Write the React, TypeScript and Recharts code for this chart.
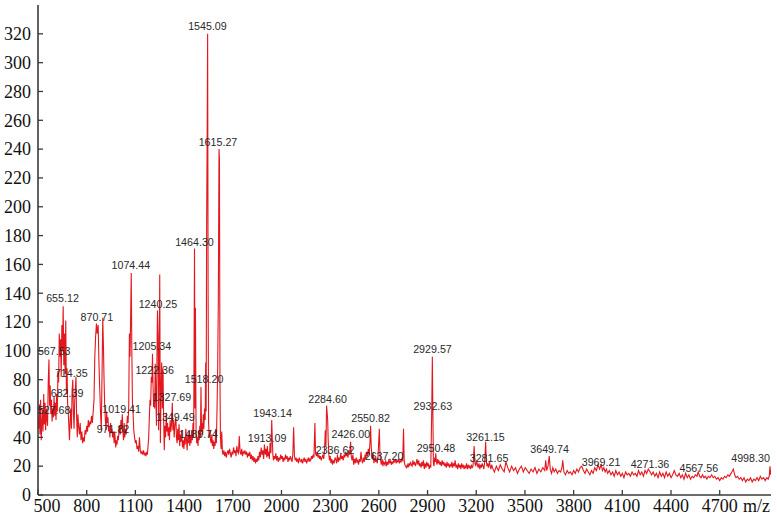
import { ComposedChart, Line, Scatter, XAxis, YAxis } from "recharts";

// m/z, intensity pairs
const SPEC_LOW: [number, number][] = [
  [500, 54], [504, 46], [508, 63], [512, 42], [516, 66], [520, 38], [524, 50], [527.68, 58],
  [531, 44], [535, 70], [539, 49], [543, 64], [547, 45], [551, 60], [555, 52], [559, 48],
  [563, 78], [567.53, 94], [571, 62], [575, 76], [579, 56], [583, 66], [587, 51], [591, 60],
  [595, 54], [599, 68], [603, 55], [607, 64], [611, 52], [615, 70], [619, 58], [623, 86],
  [627, 78], [631, 112], [635, 96], [639, 108], [643, 82], [647, 118], [651, 100], [655.12, 131],
  [659, 90], [663, 112], [667, 84], [671, 121], [675, 70], [679, 88], [682.39, 64], [686, 58],
  [690, 48], [694, 38], [698, 52], [702, 60], [706, 46], [710, 72], [714.35, 80], [718, 58],
  [722, 46], [726, 64], [730, 74], [734, 82], [738, 54], [742, 40], [746, 56], [750, 48],
  [755, 42], [760, 50], [765, 38], [770, 44], [775, 36], [780, 40], [785, 37], [790, 45],
  [795, 42], [800, 48], [805, 44], [810, 52], [815, 47], [820, 51], [825, 49], [830, 55],
  [835, 50], [840, 58], [845, 66], [850, 96], [855, 110], [860, 119], [865, 112], [870.71, 118],
  [875, 94], [880, 75], [885, 58], [890, 45], [895, 88], [899, 123], [903, 104], [907, 80],
  [911, 62], [915, 52], [919, 45], [923, 58], [927, 50], [931, 54], [935, 44], [939, 48],
  [943, 40], [947, 50], [951, 43], [955, 46], [960, 40], [965, 44], [969, 36], [971.82, 44],
  [975, 40], [979, 33], [983, 38], [987, 35], [991, 41], [995, 38], [999, 44], [1003, 48],
  [1007, 42], [1011, 52], [1015, 46], [1019.41, 56], [1023, 44], [1027, 38], [1031, 50], [1035, 40],
  [1039, 46], [1043, 42], [1047, 48], [1051, 55], [1055, 50], [1059, 62], [1063, 112], [1067, 96],
  [1071, 125], [1074.44, 154], [1078, 101], [1082, 64], [1086, 56], [1090, 45], [1095, 40], [1100, 36],
];

const SPEC_CLUSTER: [number, number][] = [
  [1105, 38], [1110, 32], [1115, 34], [1120, 30], [1125, 40], [1130, 31], [1135, 29], [1140, 30],
  [1145, 28], [1150, 31], [1155, 28], [1160, 29], [1165, 27], [1170, 30], [1174, 28], [1178, 34],
  [1182, 40], [1186, 54], [1190, 66], [1194, 62], [1198, 82], [1202, 78], [1205.34, 98], [1209, 75],
  [1212, 61], [1215, 70], [1219, 60], [1222.36, 91], [1226, 68], [1230, 48], [1233, 96], [1236, 128],
  [1240.25, 110], [1243, 45], [1246, 80], [1250, 153], [1254, 36], [1258, 72], [1262, 92], [1266, 60],
  [1270, 88], [1274, 54], [1278, 31], [1282, 48], [1286, 40], [1290, 57], [1294, 44], [1298, 50],
  [1302, 41], [1306, 47], [1310, 38], [1314, 52], [1318, 44], [1322, 48], [1327.69, 64], [1331, 45],
  [1335, 52], [1339, 40], [1343, 48], [1349.49, 54], [1353, 40], [1357, 36], [1361, 46], [1365, 38],
  [1369, 49], [1373, 34], [1377, 42], [1381, 37], [1385, 45], [1390, 33], [1395, 38], [1399, 32],
  [1403, 40], [1407, 35], [1411, 46], [1415, 38], [1419, 31], [1423, 42], [1427, 36], [1431, 44],
  [1435, 34], [1439, 41], [1443, 36], [1447, 45], [1451, 38], [1455, 50], [1459, 40], [1464.3, 171],
  [1467, 60], [1470, 130], [1474, 42], [1478, 36], [1482, 40], [1486, 34], [1489.74, 45], [1493, 38],
  [1497, 48], [1501, 40], [1504, 75], [1508, 44], [1512, 50], [1515, 42], [1518.2, 56], [1522, 46],
  [1526, 60], [1530, 52], [1533, 92], [1536, 58], [1539, 187], [1542, 245], [1545.09, 320], [1548, 140],
  [1551, 50], [1555, 40], [1559, 45], [1563, 38], [1567, 36], [1571, 42], [1575, 34], [1579, 38],
  [1583, 32], [1587, 37], [1591, 34], [1595, 46], [1599, 36], [1603, 60], [1607, 88], [1611, 135],
  [1615.27, 240], [1618, 232], [1621, 80], [1624, 40], [1628, 32], [1632, 44], [1636, 30], [1640, 28],
  [1645, 31], [1650, 27], [1655, 30], [1660, 26], [1665, 29], [1670, 31], [1675, 28], [1680, 32],
  [1685, 29], [1690, 26], [1695, 30], [1700, 28],
];

const SPEC_MID: [number, number][] = [
  [1705, 33], [1710, 29], [1715, 31], [1720, 27], [1725, 34], [1730, 30], [1735, 29], [1740, 41],
  [1745, 30], [1750, 28], [1755, 32], [1760, 27], [1765, 30], [1770, 29], [1775, 31], [1780, 28],
  [1785, 30], [1790, 26], [1795, 29], [1800, 27], [1805, 30], [1810, 25], [1815, 28], [1820, 24],
  [1825, 27], [1830, 23], [1835, 26], [1840, 22], [1845, 25], [1850, 23], [1855, 27], [1860, 24],
  [1865, 30], [1870, 26], [1875, 33], [1880, 28], [1885, 31], [1890, 25], [1895, 35], [1900, 28],
  [1905, 32], [1910, 26], [1913.09, 34], [1917, 27], [1921, 30], [1925, 25], [1930, 36], [1935, 29],
  [1940, 52], [1943.14, 40], [1947, 28], [1951, 24], [1955, 27], [1960, 25], [1965, 29], [1970, 24],
  [1975, 27], [1980, 23], [1985, 26], [1990, 24], [1995, 28], [2000, 25], [2005, 27], [2010, 23],
  [2015, 26], [2020, 24], [2025, 28], [2030, 25], [2035, 27], [2040, 23], [2045, 26], [2050, 24],
  [2055, 27], [2060, 25], [2065, 23], [2070, 28], [2075, 47], [2080, 27], [2085, 24], [2090, 26],
  [2095, 23], [2100, 25], [2105, 22], [2110, 26], [2115, 24], [2120, 23], [2125, 25], [2130, 22],
  [2135, 24], [2140, 26], [2145, 23], [2150, 25], [2155, 22], [2160, 24], [2165, 26], [2170, 23],
  [2175, 25], [2180, 24], [2185, 27], [2190, 25], [2195, 28], [2200, 26], [2206, 50], [2210, 29],
  [2215, 27], [2220, 30], [2225, 26], [2230, 28], [2235, 25], [2240, 27], [2245, 24], [2250, 26],
  [2255, 28], [2260, 25], [2265, 30], [2270, 45], [2274, 34], [2278, 62], [2284.6, 52], [2288, 38],
  [2292, 28], [2296, 24], [2300, 27], [2305, 22], [2310, 25], [2315, 21], [2320, 24], [2325, 22],
  [2330, 26], [2336.62, 24], [2340, 22], [2345, 28], [2350, 23], [2355, 26], [2360, 24], [2365, 29],
  [2370, 25], [2375, 27], [2380, 24], [2385, 28], [2390, 26], [2395, 30], [2400, 27], [2405, 29],
  [2410, 26], [2415, 31], [2420, 28], [2426, 37], [2430, 27], [2435, 24], [2440, 28], [2445, 21],
  [2450, 25], [2455, 22], [2460, 26], [2465, 23], [2470, 24], [2475, 21], [2480, 25], [2485, 23],
  [2490, 30], [2495, 24], [2500, 22], [2505, 26], [2510, 23], [2515, 28], [2520, 25], [2525, 30],
  [2530, 27], [2535, 32], [2540, 28], [2545, 36], [2549, 48], [2553, 34], [2557, 27], [2561, 25],
  [2565, 29], [2570, 22], [2575, 26], [2580, 23], [2585, 25], [2590, 22], [2595, 27], [2603, 46],
  [2607, 28], [2611, 24], [2615, 21], [2620, 25], [2625, 20], [2630, 23], [2637.2, 21], [2642, 24],
  [2647, 20], [2652, 23], [2657, 21], [2662, 25], [2667, 22], [2672, 24], [2677, 21], [2682, 23],
  [2687, 22], [2692, 24], [2697, 23], [2702, 25], [2707, 22], [2712, 24], [2717, 23], [2722, 25],
  [2727, 22], [2732, 24], [2737, 23], [2742, 25], [2747, 24], [2752, 46], [2756, 24], [2760, 21],
  [2765, 20], [2770, 19], [2775, 21], [2780, 19], [2785, 22], [2790, 20], [2795, 23], [2800, 21],
  [2805, 20], [2810, 24], [2815, 21], [2820, 23], [2825, 20], [2830, 22], [2835, 25], [2840, 21],
  [2845, 24], [2850, 20], [2855, 22], [2860, 19], [2865, 23], [2870, 20], [2875, 24], [2880, 18],
  [2885, 22], [2890, 19], [2895, 23], [2900, 20],
];

const SPEC_HIGH: [number, number][] = [
  [2905, 22], [2910, 18], [2915, 21], [2920, 19], [2926, 60], [2929.57, 96], [2932.63, 58], [2936, 22],
  [2940, 20], [2944, 26], [2948, 23], [2950.48, 29], [2954, 24], [2958, 21], [2962, 25], [2966, 22],
  [2970, 24], [2975, 21], [2980, 23], [2985, 20], [2990, 24], [2995, 21], [3000, 23], [3005, 20],
  [3010, 22], [3015, 19], [3020, 23], [3025, 20], [3030, 22], [3035, 19], [3040, 21], [3045, 20],
  [3050, 23], [3055, 19], [3060, 22], [3065, 20], [3070, 24], [3075, 19], [3080, 21], [3085, 18],
  [3090, 22], [3095, 19], [3100, 21], [3105, 18], [3110, 22], [3115, 19], [3120, 21], [3125, 18],
  [3130, 20], [3135, 19], [3140, 22], [3145, 18], [3150, 21], [3155, 19], [3160, 20], [3165, 18],
  [3170, 21], [3175, 19], [3180, 20], [3187, 34], [3192, 22], [3197, 20], [3202, 24], [3207, 21],
  [3212, 19], [3217, 22], [3222, 18], [3227, 21], [3232, 19], [3237, 22], [3242, 20], [3247, 18],
  [3252, 23], [3258, 37], [3262, 24], [3266, 20], [3270, 22], [3275, 19], [3281.65, 23], [3286, 20],
  [3290, 18], [3295, 21], [3300, 19], [3312, 16], [3324, 20], [3336, 17], [3348, 21], [3360, 18],
  [3372, 16], [3383, 23], [3394, 19], [3406, 16], [3418, 20], [3430, 17], [3442, 19], [3454, 15],
  [3466, 18], [3478, 20], [3490, 16], [3502, 19], [3514, 17], [3526, 15], [3538, 18], [3550, 16],
  [3562, 19], [3574, 15], [3586, 18], [3598, 16], [3610, 19], [3622, 17], [3628, 24], [3634, 17],
  [3642, 20], [3649.74, 27], [3656, 18], [3664, 15], [3672, 19], [3680, 16], [3690, 18], [3700, 15],
  [3710, 17], [3720, 16], [3728, 19], [3733, 24], [3740, 16], [3750, 14], [3760, 17], [3770, 15],
  [3780, 16], [3790, 14], [3800, 17], [3810, 15], [3820, 18], [3830, 16], [3840, 19], [3850, 20],
  [3860, 17], [3870, 15], [3880, 18], [3890, 16], [3900, 14], [3910, 17], [3920, 15], [3930, 19],
  [3940, 17], [3950, 21], [3960, 18], [3969.21, 21], [3978, 17], [3986, 19], [3994, 16], [4002, 18],
  [4010, 15], [4020, 17], [4030, 14], [4040, 16], [4050, 13], [4060, 17], [4070, 14], [4080, 16],
  [4090, 13], [4100, 15], [4110, 12], [4120, 16], [4130, 14], [4140, 15], [4150, 13], [4160, 16],
  [4170, 14], [4180, 15], [4190, 13], [4200, 17], [4210, 14], [4220, 16], [4230, 13], [4240, 17],
  [4250, 15], [4260, 18], [4271.36, 16], [4280, 14], [4290, 16], [4300, 13], [4310, 15], [4320, 12],
  [4330, 16], [4340, 13], [4350, 15], [4360, 12], [4370, 16], [4380, 13], [4390, 15], [4400, 12],
  [4410, 14], [4420, 17], [4430, 14], [4440, 13], [4450, 15], [4460, 12], [4470, 14], [4480, 11],
  [4490, 15], [4500, 12], [4510, 14], [4520, 11], [4530, 13], [4540, 12], [4550, 14], [4560, 13],
  [4567.56, 16], [4576, 13], [4585, 12], [4594, 14], [4603, 12], [4612, 13], [4621, 11], [4630, 13],
  [4640, 12], [4650, 14], [4660, 12], [4670, 13], [4680, 11], [4690, 12], [4700, 10], [4710, 12],
  [4720, 11], [4730, 13], [4740, 12], [4750, 14], [4760, 13], [4770, 15], [4784, 18], [4792, 14],
  [4800, 12], [4810, 13], [4820, 11], [4830, 12], [4840, 10], [4850, 12], [4860, 9], [4870, 11],
  [4880, 10], [4890, 12], [4900, 9], [4910, 11], [4920, 10], [4930, 12], [4940, 10], [4950, 13],
  [4960, 11], [4970, 12], [4980, 10], [4990, 12], [4998.3, 11], [5005, 13], [5010, 20], [5014, 14],
];

// peak annotations: text, x position (m/z), baseline height (intensity)
const PEAK_LABELS: [string, number, number][] = [
  ["1545.09", 1544, 322.7], ["1615.27", 1609, 242.2], ["1464.30", 1464, 173],
  ["1074.44", 1072, 156.6], ["655.12", 651, 133.7], ["1240.25", 1239, 130],
  ["870.71", 863, 120.7], ["1205.34", 1202, 100.6], ["567.53", 600, 97],
  ["714.35", 705, 81.7], ["1222.36", 1219, 84], ["1518.20", 1523, 77.5],
  ["682.39", 679, 67.8], ["1327.69", 1325, 65.4], ["527.68", 599, 56.2],
  ["1019.41", 1015.6, 56.7], ["1349.49", 1346, 51.6], ["971.82", 962, 43.2],
  ["1489.74", 1490, 39.3], ["1943.14", 1945, 54.3], ["1913.09", 1911, 37],
  ["2284.60", 2284, 64], ["2426.00", 2427, 39.3], ["2336.62", 2330, 28.5],
  ["2550.82", 2548.6, 50.9], ["2637.20", 2632, 24.3], ["2929.57", 2930.5, 98.3],
  ["2932.63", 2933, 59], ["2950.48", 2952, 29.6], ["3261.15", 3257, 37.5],
  ["3281.65", 3279, 23.1], ["3649.74", 3652, 28.9], ["3969.21", 3969, 20.3],
  ["4271.36", 4270.5, 19], ["4567.56", 4571, 15.7], ["4998.30", 4890, 22.7],
];

const X_TICKS = [500, 800, 1100, 1400, 1700, 2000, 2300, 2600, 2900, 3200, 3500, 3800, 4100, 4400, 4700];
const Y_TICKS = [0, 20, 40, 60, 80, 100, 120, 140, 160, 180, 200, 220, 240, 260, 280, 300, 320];

const AXIS = "#3a3a3a";
const SERIF = "'Liberation Serif', 'Times New Roman', serif";

const spectrum = [...SPEC_LOW, ...SPEC_CLUSTER, ...SPEC_MID, ...SPEC_HIGH].map(([mz, intensity]) => ({ mz, intensity }));
const labels = PEAK_LABELS.map(([text, mz, level]) => ({ text, mz, level }));

function XTick({ x, y, payload }: any) {
  const dx = payload.value === 500 ? 9 : 0;
  return (
    <g>
      <line x1={x} y1={y} x2={x} y2={y - 5} stroke={AXIS} strokeWidth={1.3} />
      <text x={x + dx} y={y + 16.5} textAnchor="middle" fontFamily={SERIF} fontSize={18} fill="#111">
        {payload.value}
      </text>
    </g>
  );
}

function YTick({ x, y, payload }: any) {
  return (
    <g>
      <line x1={x} y1={y} x2={x + 5} y2={y} stroke={AXIS} strokeWidth={1.3} />
      <text x={x - 7} y={y} dy="0.35em" textAnchor="end" fontFamily={SERIF} fontSize={18} fill="#111">
        {payload.value}
      </text>
    </g>
  );
}

function PeakLabel({ cx, cy, payload }: any) {
  return (
    <text x={cx} y={cy} textAnchor="middle" fontFamily="'Liberation Sans', Arial, sans-serif" fontSize={10.7} fill="#2a2a2a">
      {payload.text}
    </text>
  );
}

export default function App() {
  return (
    <div style={{ position: "absolute", left: 0, top: 0, background: "#fff" }}>
      <ComposedChart width={777} height={517} margin={{ top: 5, right: 6, bottom: 0, left: 0 }}>
        <XAxis
          dataKey="mz"
          type="number"
          domain={[500, 5016]}
          ticks={X_TICKS}
          allowDataOverflow
          height={22}
          tickSize={0}
          tickMargin={0}
          tickLine={false}
          tick={<XTick />}
          axisLine={{ stroke: AXIS, strokeWidth: 1.6 }}
          label={{
            content: ({ viewBox }: any) => (
              <text x={viewBox.x + viewBox.width - 1} y={viewBox.y + 16.5} textAnchor="end" fontFamily={SERIF} fontSize={18} fill="#111">
                m/z
              </text>
            ),
          }}
        />
        <XAxis xAxisId="top" orientation="top" type="number" domain={[500, 5016]} height={0} tick={false} tickLine={false} axisLine={{ stroke: AXIS, strokeWidth: 1.8 }} />
        <YAxis
          type="number"
          domain={[0, 340]}
          ticks={Y_TICKS}
          allowDataOverflow
          width={38}
          tickSize={0}
          tickMargin={0}
          tickLine={false}
          tick={<YTick />}
          axisLine={{ stroke: AXIS, strokeWidth: 1.6 }}
        />
        <YAxis yAxisId="right" orientation="right" domain={[0, 340]} width={0} tick={false} tickLine={false} axisLine={{ stroke: AXIS, strokeWidth: 1.6 }} />
        <Line
          data={spectrum}
          dataKey="intensity"
          type="linear"
          stroke="#e3171e"
          strokeWidth={1.1}
          dot={false}
          activeDot={false}
          isAnimationActive={false}
        />
        <Scatter data={labels} dataKey="level" shape={<PeakLabel />} isAnimationActive={false} />
      </ComposedChart>
    </div>
  );
}
